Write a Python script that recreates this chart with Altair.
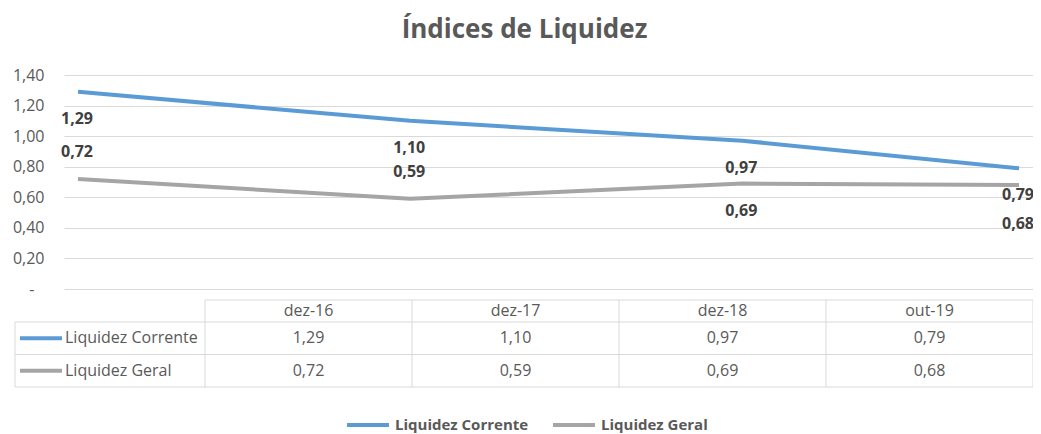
import altair as alt
import pandas as pd

# ---------------- data ----------------
categories = ["dez-16", "dez-17", "dez-18", "out-19"]
dates = ["2016-12-01", "2017-12-01", "2018-12-01", "2019-10-01"]
series_names = ["Liquidez Corrente", "Liquidez Geral"]
corrente = [1.29, 1.10, 0.97, 0.79]
geral = [0.72, 0.59, 0.69, 0.68]
y_ticks = [0, 0.2, 0.4, 0.6, 0.8, 1.0, 1.2, 1.4]
corrente_label_side = ["below", "below", "below", "below"]
geral_label_side = ["above", "above", "below", "far_below"]
colors = ["#5B9BD5", "#A5A5A5"]

FONT = "Open Sans"
TXT = "#595959"
GRID = "#D9D9D9"


def fmt(v):
    return f"{v:.2f}".replace(".", ",")


rows = []
for name, vals, sides in zip(series_names, [corrente, geral],
                             [corrente_label_side, geral_label_side]):
    for cat, d, v, s in zip(categories, dates, vals, sides):
        rows.append({"series": name, "cat": cat, "date": d, "value": v,
                     "label": fmt(v), "side": s})
df = pd.DataFrame(rows)

# ---------------- line chart ----------------
W, H = 969, 214
color_scale = alt.Scale(domain=series_names, range=colors)
x_line = alt.X("date:T", scale=alt.Scale(padding=14, nice=False), axis=None)
y_line = alt.Y(
    "value:Q",
    scale=alt.Scale(domain=[0, 1.4], nice=False, zero=True),
    axis=alt.Axis(
        values=y_ticks,
        tickCount=len(y_ticks),
        labelExpr="datum.value == 0 ? '-' : replace(format(datum.value, '.2f'), '.', ',')",
        labelOverlap=False,
        grid=True, gridColor=GRID, gridWidth=1, domain=False, ticks=False,
        labelFont=FONT, labelFontSize=16, labelColor=TXT,
        labelPadding={"condition": {"test": "datum.value == 0", "value": 30}, "value": 20},
        title=None,
    ),
)

line = alt.Chart(df).mark_line(strokeWidth=4).encode(
    x=x_line,
    y=y_line,
    color=alt.Color(
        "series:N", scale=color_scale,
        legend=alt.Legend(
            orient="none", legendX=281, legendY=327, direction="horizontal",
            title=None, symbolType="stroke", symbolSize=1764,
            symbolStrokeWidth=4, labelFont=FONT, labelFontSize=15,
            labelFontWeight="bold", labelColor=TXT, labelOffset=4,
            columnPadding=16, padding=0,
        ),
    ),
)

label_dy = {"below": 27, "above": -27, "far_below": 39}
lbl_layers = []
for side, dy in label_dy.items():
    lbl_layers.append(
        alt.Chart(df).transform_filter(f"datum.side == '{side}'").mark_text(
            font=FONT, fontSize=16, fontWeight="bold", color="#404040",
            dy=dy, dx=-1
        ).encode(x="date:T", y="value:Q", text="label:N")
    )

lines = alt.layer(line, *lbl_layers)

# ---------------- data table ----------------
n = len(categories)
n_rows = len(series_names) + 1
tx = alt.Scale(domain=[0, 1, n + 1], range=[-49, 141, 969], zero=False, nice=False)
ty = alt.Scale(domain=[0, 1, n_rows], range=[225, 247, 312], zero=False, nice=False)

cells = []
for j, cat in enumerate(categories):
    cells.append({"row": 0, "col": j + 1, "text": cat})
for i, (name, vals) in enumerate(zip(series_names, [corrente, geral])):
    for j, v in enumerate(vals):
        cells.append({"row": i + 1, "col": j + 1, "text": fmt(v)})
cells_df = pd.DataFrame(cells)

names_df = pd.DataFrame({"series": series_names,
                         "row": list(range(1, len(series_names) + 1)),
                         "col": [0] * len(series_names)})

hl = pd.DataFrame({"y": list(range(0, n_rows + 1)),
                   "x": [1] + [0] * n_rows,
                   "x2": [n + 1] * (n_rows + 1)})
vl = pd.DataFrame({"x": list(range(0, n + 2)),
                   "y": [1] + [0] * (n + 1),
                   "y2": [n_rows] * (n + 2)})

h_rules = alt.Chart(hl).mark_rule(color=GRID, strokeWidth=1).encode(
    x=alt.X("x:Q", scale=tx, axis=None), x2="x2:Q",
    y=alt.Y("y:Q", scale=ty, axis=None))
v_rules = alt.Chart(vl).mark_rule(color=GRID, strokeWidth=1).encode(
    x=alt.X("x:Q", scale=tx, axis=None),
    y=alt.Y("y:Q", scale=ty, axis=None), y2="y2:Q")

cell_text = alt.Chart(cells_df).transform_calculate(
    xc="datum.col + 0.5", yc="datum.row + 0.5"
).mark_text(font=FONT, fontSize=16, color=TXT, baseline="middle").encode(
    x=alt.X("xc:Q", scale=tx, axis=None),
    y=alt.Y("yc:Q", scale=ty, axis=None),
    text="text:N")

swatch = alt.Chart(names_df).transform_calculate(
    yc="datum.row + 0.5"
).mark_rule(strokeWidth=4, xOffset=5, x2Offset=47).encode(
    x=alt.X("col:Q", scale=tx, axis=None), x2="col:Q",
    y=alt.Y("yc:Q", scale=ty, axis=None),
    color=alt.Color("series:N", scale=color_scale, legend=None))

name_text = alt.Chart(names_df).transform_calculate(
    yc="datum.row + 0.5"
).mark_text(font=FONT, fontSize=16, color=TXT, align="left", dx=50,
            baseline="middle").encode(
    x=alt.X("col:Q", scale=tx, axis=None),
    y=alt.Y("yc:Q", scale=ty, axis=None),
    text="series:N")

table = alt.layer(h_rules, v_rules, cell_text, swatch, name_text)

chart = alt.layer(lines, table).resolve_scale(
    x="independent", y="independent", color="independent"
).properties(
    width=W, height=H,
    title=alt.TitleParams("Índices de Liquidez", font=FONT, fontSize=26,
                          fontWeight="bold", color=TXT, anchor="middle",
                          baseline="alphabetic", offset=3, dx=-24),
    padding={"left": 56, "top": 67, "right": 0, "bottom": 145},
    autosize=alt.AutoSizeParams(type="none"),
).configure_view(stroke=None)

chart.save("out.html", embed_options={"renderer": "svg", "actions": False})
